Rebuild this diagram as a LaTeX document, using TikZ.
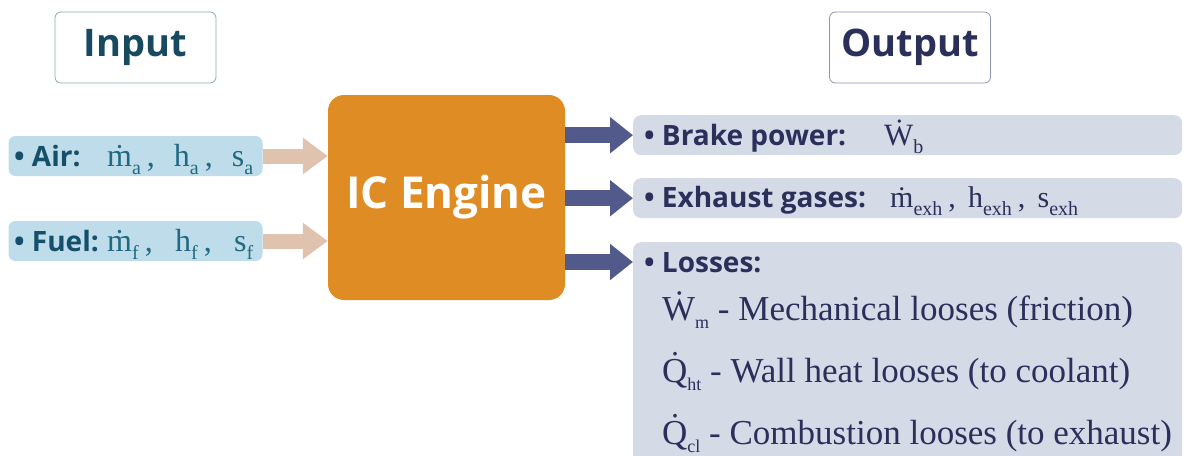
\documentclass[tikz,border=0pt]{standalone}
\usepackage{fontspec}
\setmainfont{Liberation Serif}
\setsansfont{Open Sans}
\usetikzlibrary{arrows.meta}
\definecolor{intitle}{HTML}{174A61}
\definecolor{inborder}{HTML}{8FA9B3}
\definecolor{infill}{HTML}{BFDCEA}
\definecolor{intext}{HTML}{14506A}
\definecolor{ineq}{HTML}{1F6A80}
\definecolor{inarrow}{HTML}{E0C3AE}
\definecolor{engine}{HTML}{E08C24}
\definecolor{outarrow}{HTML}{525A8B}
\definecolor{outfill}{HTML}{D5DAE7}
\definecolor{outtext}{HTML}{2A305A}
\definecolor{outborder}{HTML}{8C93B5}
% subscript for the input/exhaust quantities
\newcommand{\qsub}[1]{\raisebox{-8pt}{\fontsize{20}{20}\selectfont #1}}
% subscript for the loss lines
\newcommand{\lsub}[1]{\raisebox{-8pt}{\fontsize{18}{18}\selectfont #1}}
\newcommand{\sep}{\hspace{6pt},\hfill}
\tikzset{
  titlebox/.style={draw, line width=0.8pt, rounded corners=6pt, minimum width=161pt, minimum height=71pt, inner sep=0pt, font=\sffamily\bfseries\fontsize{38}{38}\selectfont},
  inbox/.style={fill=infill, rounded corners=7pt, minimum width=254pt, minimum height=40pt, inner sep=0pt},
  outbox/.style={fill=outfill, rounded corners=8pt, minimum width=549pt, inner sep=0pt, anchor=north west},
  inarr/.style={draw=inarrow, line width=15pt, -{Triangle[length=25pt,width=35pt]}},
  outarr/.style={draw=outarrow, line width=16pt, -{Triangle[length=23pt,width=35pt]}},
  lbl/.style={anchor=base west, inner sep=0pt},
  sanslbl/.style={lbl, font=\sffamily\bfseries\fontsize{28}{28}\selectfont},
  eqlbl/.style={lbl, font=\fontsize{30}{30}\selectfont},
  ineqlbl/.style={lbl, font=\fontsize{32}{32}\selectfont},
  losslbl/.style={lbl, text=outtext, font=\fontsize{35}{35}\selectfont},
}
\begin{document}
\begin{tikzpicture}[x=1pt,y=-1pt]
\useasboundingbox (0,0) rectangle (1183,455);
% titles
\node[titlebox, draw=inborder, text=intitle] (intitle) at (135.5,47.5) {Input};
\node[titlebox, draw=outborder, text=outtext] (outtitle) at (910,47.5) {Output};
% engine
\node[fill=engine, rounded corners=16pt, minimum width=237pt, minimum height=205pt, inner sep=0pt,
      text=white, font=\sffamily\bfseries\fontsize{44}{44}\selectfont] (eng) at (446.5,197.5) {IC Engine};
% input boxes
\node[inbox] (air) at (135.5,156) {};
\node[inbox] (fuel) at (135.5,241) {};
\node[sanslbl, text=intext] (airlbl) at (14,166) {• Air:};
\node[ineqlbl, text=ineq] (aireq) at (107,166) {\makebox[146pt][s]{\.{m}\qsub{a}\sep h\qsub{a}\sep s\qsub{a}}};
\node[sanslbl, text=intext] (fuellbl) at (14,251) {• Fuel:};
\node[ineqlbl, text=ineq] (fueleq) at (107,251) {\makebox[146pt][s]{\.{m}\qsub{f}\sep h\qsub{f}\sep s\qsub{f}}};
% input arrows
\draw[inarr] (air.east) -- (air.east -| eng.west);
\draw[inarr] (fuel.east) -- (fuel.east -| eng.west);
% output boxes
\node[outbox, minimum height=40pt] (brake) at (633,115) {};
\node[outbox, minimum height=40pt] (exh) at (633,178) {};
\node[outbox, minimum height=240pt] (loss) at (633,242) {};
\coordinate (lossarr) at (633,262);
% output arrows
\draw[outarr] (eng.east |- brake.west) -- (brake.west);
\draw[outarr] (eng.east |- exh.west) -- (exh.west);
\draw[outarr] (eng.east |- lossarr) -- (lossarr);
% output texts
\node[sanslbl, text=outtext] (t1) at (644,145) {• Brake power:};
\node[eqlbl, text=outtext, font=\fontsize{31}{31}\selectfont] (t1eq) at (884,145) {\.{W}\qsub{b}};
\node[sanslbl, text=outtext] (t2) at (644,207) {• Exhaust gases:};
\node[eqlbl, text=outtext] (t2eq) at (890,207) {\makebox[188pt][s]{\.{m}\qsub{exh}\sep h\qsub{exh}\sep s\qsub{exh}}};
\node[sanslbl, text=outtext] (t3) at (644,272) {• Losses:};
\node[losslbl] (l1) at (662,320) {\.{W}\lsub{m}\ - Mechanical looses (friction)};
\node[losslbl] (l2) at (662,382) {\.{Q}\lsub{ht}\ - Wall heat looses (to coolant)};
\node[losslbl] (l3) at (662,444) {\.{Q}\lsub{cl}\ - Combustion looses (to exhaust)};
\end{tikzpicture}
\end{document}
